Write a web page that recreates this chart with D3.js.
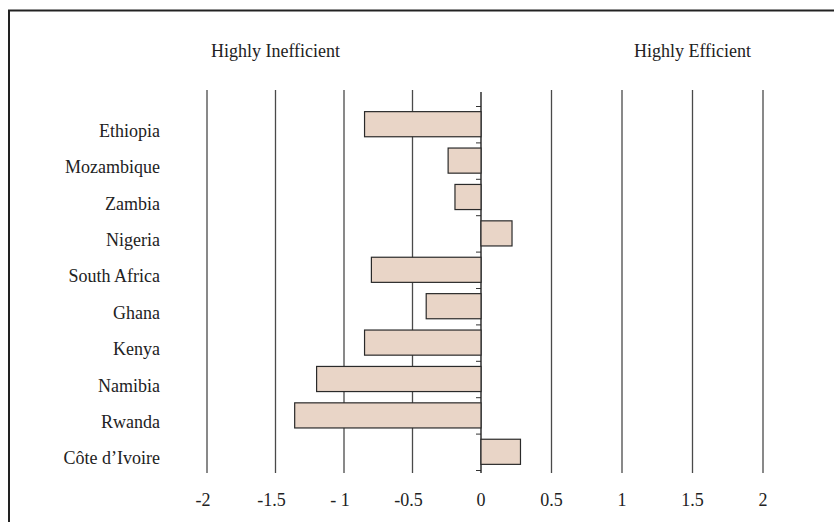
<!DOCTYPE html>
<html>
<head>
<meta charset="utf-8">
<script src="https://cdn.jsdelivr.net/npm/d3@7"></script>
<style>
  html, body { margin: 0; padding: 0; background: #fff; }
  svg { display: block; }
  text { font-family: "Liberation Serif", "Times New Roman", serif; fill: #222; }
</style>
</head>
<body>
<svg id="chart" width="834" height="522"></svg>
<script>
// ---- data ----
const countries = ["Ethiopia", "Mozambique", "Zambia", "Nigeria", "South Africa",
                   "Ghana", "Kenya", "Namibia", "Rwanda", "Côte d\u2019Ivoire"];
const values = [-0.85, -0.24, -0.19, 0.22, -0.80, -0.40, -0.85, -1.20, -1.36, 0.28];
const tickValues = [-2, -1.5, -1, -0.5, 0, 0.5, 1, 1.5, 2];
const tickLabels = ["-2", "-1.5", "- 1", "-0.5", "0", "0.5", "1", "1.5", "2"];
const headers = [{ text: "Highly Inefficient", at: -1.5 }, { text: "Highly Efficient", at: 1.5 }];

// ---- layout ----
const svg = d3.select("#chart");
const W = 834, H = 522;
const gridTop = 90, gridBottom = 473;

const x = d3.scaleLinear().domain([-2, 0, 2]).range([207, 481, 763]);
const y = d3.scaleBand().domain(countries).range([106, 470])
  .paddingInner(0.31).paddingOuter(0.155);

// frame
svg.append("rect")
  .attr("x", 9).attr("y", 10.5)
  .attr("width", W + 20).attr("height", H + 20)
  .attr("fill", "none").attr("stroke", "#222").attr("stroke-width", 2);

// vertical grid lines (except zero)
svg.append("g").selectAll("line")
  .data(tickValues.filter(d => d !== 0))
  .join("line")
  .attr("x1", d => x(d)).attr("x2", d => x(d))
  .attr("y1", gridTop).attr("y2", gridBottom)
  .attr("stroke", "#4a4a4a").attr("stroke-width", 1.3);

// zero axis with small ticks at band boundaries
const idx = d3.scaleLinear().domain([0, countries.length]).range(y.range());
const zeroAxis = d3.axisLeft(idx)
  .tickValues(d3.range(countries.length + 1))
  .tickSize(5).tickFormat("");
const za = svg.append("g").attr("transform", `translate(${x(0)},0)`).call(zeroAxis);
za.select(".domain").remove();
za.selectAll(".tick line").attr("stroke", "#333").attr("stroke-width", 1);
svg.append("line")
  .attr("x1", x(0)).attr("x2", x(0))
  .attr("y1", gridTop + 2).attr("y2", gridBottom)
  .attr("stroke", "#222").attr("stroke-width", 1.4);

// bars
svg.append("g").selectAll("rect")
  .data(countries.map((c, i) => ({ c, v: values[i] })))
  .join("rect")
  .attr("x", d => x(Math.min(0, d.v)))
  .attr("y", d => y(d.c))
  .attr("width", d => Math.abs(x(d.v) - x(0)))
  .attr("height", y.bandwidth())
  .attr("fill", "#e9d5c7")
  .attr("stroke", "#2a2a2a")
  .attr("stroke-width", 1.2);

// country labels
svg.append("g").selectAll("text")
  .data(countries)
  .join("text")
  .attr("x", 160)
  .attr("y", d => y(d) + y.bandwidth() / 2 + 12.5)
  .attr("text-anchor", "end")
  .attr("font-size", 18)
  .text(d => d);

// x tick labels
svg.append("g").selectAll("text")
  .data(tickValues.map((v, i) => ({ v, t: tickLabels[i] })))
  .join("text")
  .attr("x", d => x(d.v) + (d.v < 0 ? -4 : 0))
  .attr("y", 506)
  .attr("text-anchor", "middle")
  .attr("font-size", 18)
  .text(d => d.t);

// headers
svg.append("g").selectAll("text")
  .data(headers)
  .join("text")
  .attr("x", d => x(d.at))
  .attr("y", 57)
  .attr("text-anchor", "middle")
  .attr("font-size", 18)
  .text(d => d.text);
</script>
</body>
</html>
